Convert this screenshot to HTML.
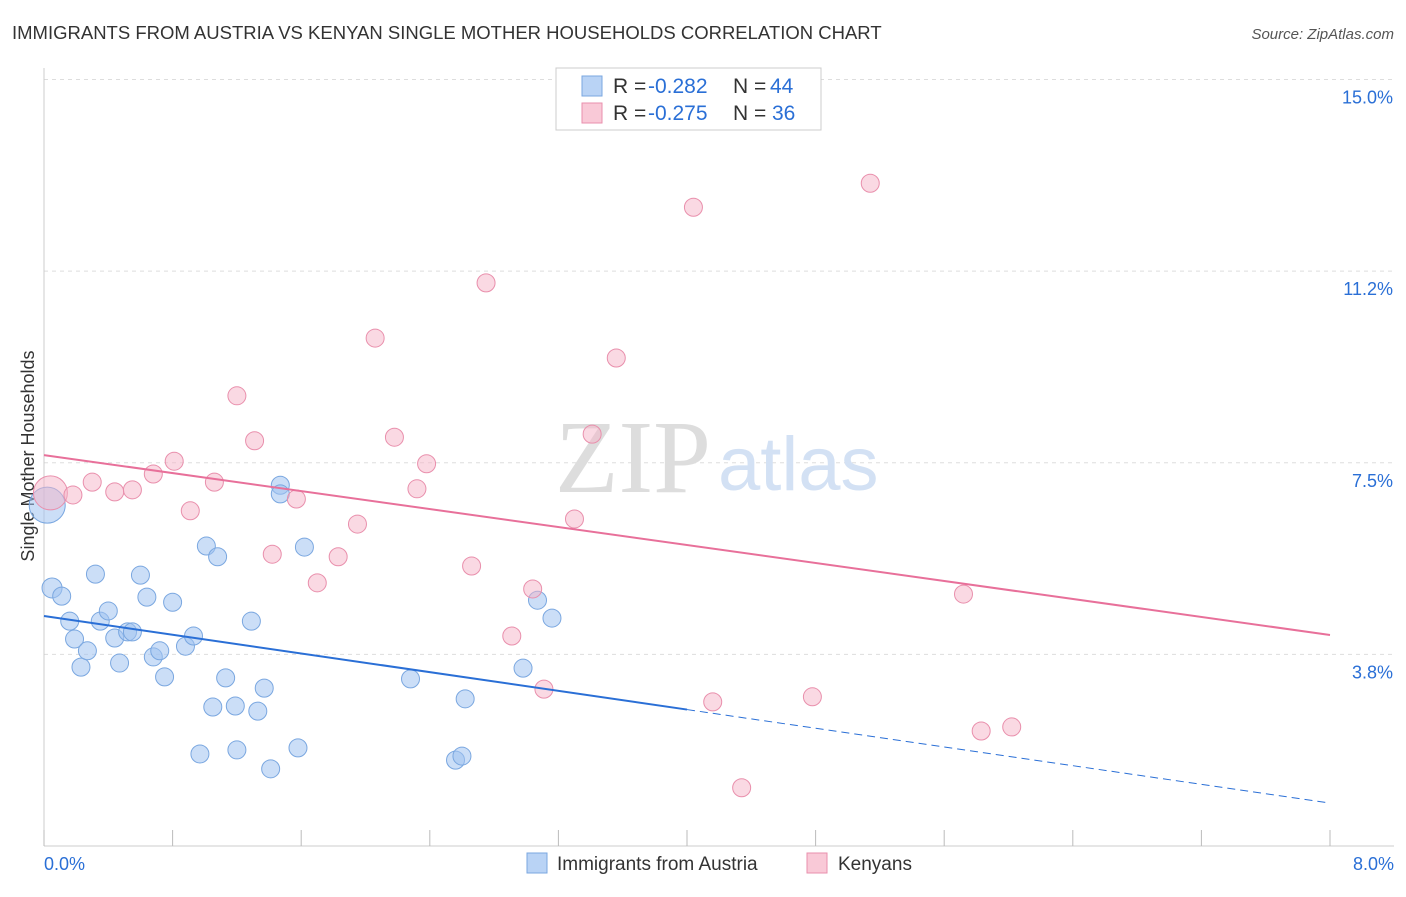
<!DOCTYPE html>
<html><head><meta charset="utf-8"><style>
body{margin:0;background:#fff;font-family:"Liberation Sans",sans-serif}
</style></head><body>
<svg id="chart" width="1406" height="892" xmlns="http://www.w3.org/2000/svg" font-family="Liberation Sans, sans-serif">
<text x="12" y="39" font-size="18.5" fill="#333">IMMIGRANTS FROM AUSTRIA VS KENYAN SINGLE MOTHER HOUSEHOLDS CORRELATION CHART</text>
<text x="1394" y="39" font-size="15" fill="#555" text-anchor="end" font-style="italic">Source: ZipAtlas.com</text>
<g id="grid"></g>
<text x="555" y="492" font-size="104" fill="#ddd" font-family="Liberation Serif, serif">ZIP</text>
<text x="718" y="490" font-size="76" fill="#d3e1f4">atlas</text>
<text transform="translate(34,456) rotate(-90)" font-size="18" fill="#333" text-anchor="middle">Single Mother Households</text>
<g id="marks"></g>
<g>
<rect x="556" y="68" width="265" height="62" fill="#fff" stroke="#ccc"/>
<rect x="582" y="76" width="20" height="20" fill="#b9d3f5" stroke="#7aa7e0"/>
<rect x="582" y="103" width="20" height="20" fill="#f9c9d7" stroke="#e98fac"/>
<text x="613" y="93" font-size="21" fill="#333">R = </text>
<text x="648" y="93" font-size="21" fill="#2a6fd6">-0.282</text>
<text x="733" y="93" font-size="21" fill="#333">N = </text>
<text x="770" y="93" font-size="21" fill="#2a6fd6">44</text>
<text x="613" y="120" font-size="21" fill="#333">R = </text>
<text x="648" y="120" font-size="21" fill="#2a6fd6">-0.275</text>
<text x="733" y="120" font-size="21" fill="#333">N = </text>
<text x="772" y="120" font-size="21" fill="#2a6fd6">36</text>
</g>
<g>
<rect x="527" y="853" width="20" height="20" fill="#b9d3f5" stroke="#7aa7e0"/>
<text x="557" y="870" font-size="19" fill="#333">Immigrants from Austria</text>
<rect x="807" y="853" width="20" height="20" fill="#f9c9d7" stroke="#e98fac"/>
<text x="838" y="870" font-size="19" fill="#333">Kenyans</text>
</g>
</svg>
<script>
const yTicks=[15.0,11.25,7.5,3.75];
const yTickLabels=["15.0%","11.2%","7.5%","3.8%"];
const xTickLabels=["0.0%","8.0%"];
const blueX=[0.05,0.11,0.16,0.19,0.23,0.27,0.32,0.35,0.40,0.44,0.47,0.52,0.55,0.60,0.64,0.68,0.72,0.75,0.80,0.88,0.93,0.97,1.01,1.05,1.08,1.13,1.19,1.20,1.29,1.33,1.37,1.41,1.47,1.47,1.58,1.62,2.28,2.56,2.60,2.62,2.98,3.07,3.16,0.02];
const blueY=[5.05,4.89,4.40,4.05,3.50,3.82,5.32,4.40,4.60,4.07,3.58,4.19,4.19,5.30,4.87,3.70,3.82,3.31,4.77,3.91,4.11,1.80,5.87,2.72,5.66,3.29,2.74,1.88,4.40,2.64,3.09,1.51,7.06,6.89,1.92,5.85,3.27,1.68,1.76,2.88,3.48,4.81,4.46,6.67];
const blueSize=[10,9,9,9,9,9,9,9,9,9,9,9,9,9,9,9,9,9,9,9,9,9,9,9,9,9,9,9,9,9,9,9,9,9,9,9,9,9,9,9,9,9,9,18];
const pinkX=[0.04,0.18,0.30,0.44,0.55,0.68,0.81,0.91,1.06,1.20,1.31,1.42,1.57,1.70,1.83,1.95,2.06,2.18,2.32,2.38,2.66,2.75,2.91,3.04,3.11,3.30,3.41,3.56,4.04,4.16,4.34,4.78,5.14,5.72,5.83,6.02];
const pinkY=[6.91,6.87,7.12,6.93,6.97,7.28,7.53,6.56,7.12,8.81,7.93,5.71,6.79,5.15,5.66,6.30,9.94,8.00,6.99,7.48,5.48,11.02,4.11,5.03,3.07,6.40,8.06,9.55,12.50,2.82,1.14,2.92,12.97,4.93,2.25,2.33];
const pinkSize=[17,9,9,9,9,9,9,9,9,9,9,9,9,9,9,9,9,9,9,9,9,9,9,9,9,9,9,9,9,9,9,9,9,9,9,9];
const blueTrend=[4.50,0.84]; const blueSolidEnd=4.0;
const pinkTrend=[7.65,4.13];
const X0=44,X1=1330,Y0=846,PY=51.1;
const xs=v=>X0+v*(X1-X0)/8, ys=v=>Y0-v*PY;
const NS="http://www.w3.org/2000/svg";
function mk(t,a,p){const e=document.createElementNS(NS,t);for(const k in a)e.setAttribute(k,a[k]);p.appendChild(e);return e;}
const grid=document.getElementById('grid'),marks=document.getElementById('marks');
yTicks.forEach((v,i)=>{
 const l=mk('line',{x1:X0,x2:1394,y1:ys(v),y2:ys(v),stroke:'#ddd','stroke-dasharray':'4,4'},grid);
 
 
 const t=mk('text',{x:1393,y:ys(v)+24,'font-size':18,fill:'#2a6fd6','text-anchor':'end'},grid);
 t.textContent=yTickLabels[i];
 
 
});
const ax=mk('line',{x1:X0,x2:X0,y1:68,y2:Y0,stroke:'#ccc'},grid);


const bx=mk('line',{x1:X0,x2:1394,y1:Y0,y2:Y0,stroke:'#ccc'},grid);


for(let i=0;i<=10;i++){
 const tk=mk('line',{x1:xs(i*0.8),x2:xs(i*0.8),y1:Y0-16,y2:Y0,stroke:'#bbb'},grid);
 
 
}
[[0,'start',44],[8,'end',1394]].forEach((d,i)=>{
 const t=mk('text',{x:d[2],y:870,'font-size':18,fill:'#2a6fd6','text-anchor':d[1]},grid);
 t.textContent=xTickLabels[i];
 
 
});
blueX.forEach((v,i)=>{
 const c=mk('circle',{cx:xs(v),cy:ys(blueY[i]),r:blueSize[i],fill:'rgba(160,195,240,0.55)',stroke:'#7aa7e0','stroke-width':1},marks);
 
 
});
pinkX.forEach((v,i)=>{
 const c=mk('circle',{cx:xs(v),cy:ys(pinkY[i]),r:pinkSize[i],fill:'rgba(246,180,200,0.5)',stroke:'#e98fac','stroke-width':1},marks);
 
 
});
const bAt=x=>blueTrend[0]+(blueTrend[1]-blueTrend[0])*x/8;
const l1=mk('line',{x1:xs(0),y1:ys(bAt(0)),x2:xs(blueSolidEnd),y2:ys(bAt(blueSolidEnd)),stroke:'#2a6fd6','stroke-width':2},marks);


const l2=mk('line',{x1:xs(blueSolidEnd),y1:ys(bAt(blueSolidEnd)),x2:xs(8),y2:ys(bAt(8)),stroke:'#2a6fd6','stroke-width':1,'stroke-dasharray':'8,5'},marks);


const l3=mk('line',{x1:xs(0),y1:ys(pinkTrend[0]),x2:xs(8),y2:ys(pinkTrend[1]),stroke:'#e8709a','stroke-width':2},marks);


</script>
</body></html>
